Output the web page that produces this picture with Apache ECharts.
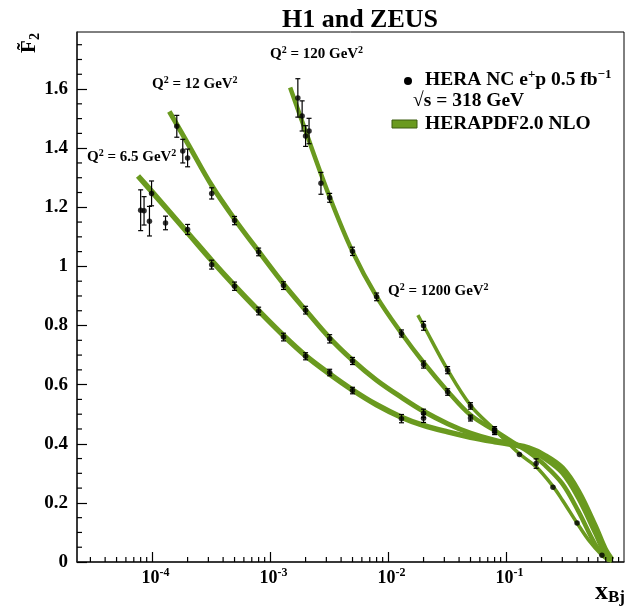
<!DOCTYPE html>
<html>
<head>
<meta charset="utf-8">
<script src="https://cdn.jsdelivr.net/npm/echarts@6/dist/echarts.min.js"></script>
<style>
  html, body { margin: 0; padding: 0; background: #fff; }
  #main { width: 631px; height: 610px; }
</style>
</head>
<body>
<div id="main"></div>
<script>
// HERA NC e+p data points (x, F2 reduced, total error)
const q65X = [8.0e-5, 8.55e-5, 9.5e-5, 9.9e-5, 1.3e-4, 2e-4, 3.2e-4, 5e-4, 8e-4, 1.3e-3, 2e-3, 3.2e-3, 5e-3, 0.013, 0.02];
const q65F2 = [1.190, 1.188, 1.153, 1.247, 1.147, 1.125, 1.006, 0.933, 0.849, 0.761, 0.696, 0.641, 0.580, 0.485, 0.486];
const q65Err = [0.069, 0.048, 0.050, 0.042, 0.023, 0.017, 0.015, 0.014, 0.013, 0.013, 0.012, 0.011, 0.011, 0.014, 0.014];

const q12X = [1.62e-4, 1.82e-4, 2.0e-4, 3.2e-4, 5e-4, 8e-4, 1.3e-3, 2e-3, 3.2e-3, 5e-3, 0.02];
const q12F2 = [1.474, 1.390, 1.367, 1.247, 1.155, 1.049, 0.935, 0.852, 0.755, 0.680, 0.503];
const q12Err = [0.037, 0.040, 0.030, 0.019, 0.014, 0.013, 0.013, 0.013, 0.014, 0.012, 0.014];

const q120X = [1.72e-3, 1.87e-3, 2.0e-3, 2.14e-3, 2.7e-3, 3.2e-3, 5e-3, 8e-3, 0.013, 0.02, 0.032, 0.05, 0.08];
const q120F2 = [1.570, 1.509, 1.441, 1.458, 1.281, 1.232, 1.051, 0.897, 0.773, 0.668, 0.575, 0.487, 0.441];
const q120Err = [0.065, 0.051, 0.035, 0.043, 0.037, 0.015, 0.014, 0.013, 0.012, 0.012, 0.011, 0.010, 0.010];

const q1200X = [0.02, 0.032, 0.05, 0.08, 0.13, 0.18, 0.25, 0.4, 0.65];
const q1200F2 = [0.799, 0.649, 0.528, 0.448, 0.364, 0.333, 0.253, 0.132, 0.023];
const q1200Err = [0.015, 0.012, 0.011, 0.010, 0, 0.016, 0, 0, 0];

// HERAPDF2.0 NLO bands, read along the middle of each band
const pdf65X = [7.6e-5, 1e-4, 2e-4, 3.2e-4, 5e-4, 8e-4, 1.3e-3, 2e-3, 3.2e-3, 5e-3, 8e-3, 0.013, 0.02, 0.032, 0.05, 0.08, 0.115, 0.155, 0.21, 0.3, 0.41, 0.57, 0.69, 0.79];
const pdf65F2 = [1.306, 1.252, 1.114, 1.020, 0.935, 0.850, 0.766, 0.698, 0.636, 0.582, 0.532, 0.490, 0.462, 0.440, 0.422, 0.407, 0.397, 0.386, 0.362, 0.318, 0.240, 0.122, 0.045, 0.008];

const pdf12X = [1.4e-4, 2e-4, 3.2e-4, 5e-4, 8e-4, 1.3e-3, 2e-3, 3.2e-3, 5e-3, 8e-3, 0.013, 0.02, 0.032, 0.05, 0.08, 0.115, 0.155, 0.21, 0.3, 0.41, 0.57, 0.69, 0.79];
const pdf12F2 = [1.524, 1.417, 1.274, 1.160, 1.051, 0.941, 0.852, 0.758, 0.683, 0.615, 0.557, 0.510, 0.468, 0.436, 0.412, 0.398, 0.382, 0.352, 0.302, 0.218, 0.100, 0.030, 0.005];

const pdf120X = [1.48e-3, 2e-3, 3.2e-3, 5e-3, 8e-3, 0.013, 0.02, 0.032, 0.05, 0.08, 0.115, 0.155, 0.21, 0.3, 0.41, 0.57, 0.69, 0.79];
const pdf120F2 = [1.605, 1.458, 1.235, 1.050, 0.898, 0.774, 0.675, 0.578, 0.497, 0.445, 0.405, 0.372, 0.330, 0.265, 0.172, 0.060, 0.018, 0.004];

const pdf1200X = [0.0179, 0.02, 0.032, 0.05, 0.08, 0.13, 0.18, 0.25, 0.3, 0.4, 0.5, 0.65, 0.75];
const pdf1200F2 = [0.835, 0.800, 0.650, 0.530, 0.448, 0.366, 0.322, 0.256, 0.210, 0.132, 0.075, 0.023, 0.004];

// axes
const xMin = 2.31e-5;
const xMajorExp = [-4, -3, -2, -1];
const xMinorMult = [2, 3, 4, 5, 6, 7, 8, 9];
const xMinorDecades = [1e-5, 1e-4, 1e-3, 1e-2, 1e-1];
const yMax = 1.793;
const yMajor = [0, 0.2, 0.4, 0.6, 0.8, 1, 1.2, 1.4, 1.6];
const yMinor = [0.05, 0.1, 0.15, 0.25, 0.3, 0.35, 0.45, 0.5, 0.55, 0.65, 0.7, 0.75,
  0.85, 0.9, 0.95, 1.05, 1.1, 1.15, 1.25, 1.3, 1.35, 1.45, 1.5, 1.55, 1.65, 1.7, 1.75];

const FONT = 'Liberation Serif';
const GREEN = '#6a9a1f';

const lxMin = Math.log10(xMin);
const xMinor = [];
xMinorDecades.forEach(function (d) {
  xMinorMult.forEach(function (m) {
    const v = Math.log10(m * d);
    if (v > lxMin && v < 0) xMinor.push(v);
  });
});

function tok(size, extra) {
  return Object.assign({ fontFamily: FONT, fontWeight: 'bold', fontSize: size, color: '#000', fill: '#000' }, extra || {});
}
function richSet(size) {
  const sup = Math.round(size * 0.65);
  return {
    m: tok(size, { lineHeight: Math.round(size * 1.2) }),
    s: tok(sup, { lineHeight: sup, verticalAlign: 'top' }),
    d: tok(sup, { lineHeight: sup, verticalAlign: 'bottom' })
  };
}

function curve(xs, ys, width) {
  return {
    type: 'line',
    data: xs.map(function (x, i) { return [Math.log10(x), ys[i]]; }),
    smooth: 0.35,
    showSymbol: false,
    lineStyle: { color: GREEN, width: width, cap: 'butt' },
    z: 2
  };
}
function points(xs, ys) {
  return {
    type: 'scatter',
    data: xs.map(function (x, i) { return [Math.log10(x), ys[i]]; }),
    symbol: 'circle',
    symbolSize: 5.5,
    itemStyle: { color: '#000' },
    z: 6
  };
}
function errorBars(xs, ys, es) {
  return {
    type: 'custom',
    data: xs.map(function (x, i) { return [Math.log10(x), ys[i], es[i]]; }),
    encode: { x: 0, y: 1 },
    z: 5,
    renderItem: function (params, api) {
      const x = api.value(0), y = api.value(1), e = api.value(2);
      if (!(e > 0.004)) return { type: 'group', children: [] };
      const hi = api.coord([x, y + e]);
      const lo = api.coord([x, y - e]);
      const w = 2.5;
      const st = { stroke: '#000', lineWidth: 1.2 };
      return {
        type: 'group',
        children: [
          { type: 'line', shape: { x1: hi[0], y1: hi[1], x2: lo[0], y2: lo[1] }, style: st },
          { type: 'line', shape: { x1: hi[0] - w, y1: hi[1], x2: hi[0] + w, y2: hi[1] }, style: st },
          { type: 'line', shape: { x1: lo[0] - w, y1: lo[1], x2: lo[0] + w, y2: lo[1] }, style: st }
        ]
      };
    }
  };
}
// short inward minor ticks on the bottom (dim 'x') or left (dim 'y') axis
function minorTicks(values, dim) {
  return {
    type: 'custom',
    data: values.map(function (v) { return dim === 'x' ? [v, 0] : [lxMin, v]; }),
    encode: { x: 0, y: 1 },
    clip: false,
    silent: true,
    z: 7,
    renderItem: function (params, api) {
      const p = api.coord([api.value(0), api.value(1)]);
      const shape = dim === 'x'
        ? { x1: p[0], y1: p[1], x2: p[0], y2: p[1] - 5 }
        : { x1: p[0], y1: p[1], x2: p[0] + 5, y2: p[1] };
      return { type: 'line', shape: shape, style: { stroke: '#000', lineWidth: 1.2 } };
    }
  };
}

const chart = echarts.init(document.getElementById('main'));

const option = {
  animation: false,
  backgroundColor: '#fff',
  title: {
    text: 'H1 and ZEUS',
    left: 355,
    top: 2,
    textAlign: 'center',
    textStyle: { fontFamily: FONT, fontWeight: 'bold', fontSize: 26, color: '#000' }
  },
  grid: { left: 77, right: 7, top: 32, bottom: 48, show: true, borderColor: '#000', borderWidth: 1, backgroundColor: 'transparent' },
  xAxis: {
    type: 'value', min: lxMin, max: 0,
    axisLine: { onZero: false, lineStyle: { color: '#222', width: 1.5 } },
    axisTick: { inside: true, length: 10, customValues: xMajorExp, lineStyle: { color: '#000', width: 1.2 } },
    axisLabel: {
      customValues: xMajorExp,
      margin: 5,
      padding: [0, 0, 0, 7],
      formatter: function (v) { return '{m|10}{s|' + v + '}'; },
      rich: richSet(18)
    },
    splitLine: { show: false }
  },
  yAxis: {
    type: 'value', min: 0, max: yMax,
    axisLine: { onZero: false, lineStyle: { color: '#222', width: 1.5 } },
    axisTick: { inside: true, length: 10, customValues: yMajor, lineStyle: { color: '#000', width: 1.2 } },
    axisLabel: {
      customValues: yMajor, margin: 9,
      fontFamily: FONT, fontWeight: 'bold', fontSize: 19, color: '#000'
    },
    splitLine: { show: false }
  },
  graphic: [
    // y title: F~_2, rotated
    {
      type: 'text', x: 30, y: 43, rotation: Math.PI / 2,
      style: { text: '{m|F\u0303}{d|2}', rich: richSet(21), align: 'center', verticalAlign: 'middle' }
    },
    // x title
    {
      type: 'text', x: 625, y: 592,
      style: { text: '{m|x}{d|Bj}', rich: { m: tok(26, { lineHeight: 28 }), d: tok(17, { lineHeight: 17, verticalAlign: 'bottom' }) }, align: 'right', verticalAlign: 'middle' }
    },
    // Q2 labels
    { type: 'text', x: 87, y: 157, style: { text: '{m|Q}{s|2}{m| = 6.5 GeV}{s|2}', rich: richSet(15), verticalAlign: 'middle' } },
    { type: 'text', x: 152, y: 84, style: { text: '{m|Q}{s|2}{m| = 12 GeV}{s|2}', rich: richSet(15), verticalAlign: 'middle' } },
    { type: 'text', x: 270, y: 54, style: { text: '{m|Q}{s|2}{m| = 120 GeV}{s|2}', rich: richSet(15), verticalAlign: 'middle' } },
    { type: 'text', x: 388, y: 291, style: { text: '{m|Q}{s|2}{m| = 1200 GeV}{s|2}', rich: richSet(15), verticalAlign: 'middle' } },
    // legend
    { type: 'circle', shape: { cx: 408, cy: 81, r: 4 }, style: { fill: '#000' } },
    { type: 'text', x: 425, y: 80, style: { text: '{m|HERA NC e}{s|+}{m|p 0.5 fb}{s|\u22121}', rich: richSet(19.5), verticalAlign: 'middle' } },
    { type: 'text', x: 413, y: 101, style: { text: '{m|\u221As = 318 GeV}', rich: richSet(19.5), verticalAlign: 'middle' } },
    { type: 'rect', shape: { x: 392, y: 120, width: 25, height: 8 }, style: { fill: GREEN, stroke: '#3d5c10', lineWidth: 1 } },
    { type: 'text', x: 425, y: 124, style: { text: '{m|HERAPDF2.0 NLO}', rich: richSet(19.5), verticalAlign: 'middle' } }
  ],
  series: [
    curve(pdf65X, pdf65F2, 5.5),
    curve(pdf12X, pdf12F2, 5),
    curve(pdf120X, pdf120F2, 4.5),
    curve(pdf1200X, pdf1200F2, 3.5),
    errorBars(q65X, q65F2, q65Err),
    errorBars(q12X, q12F2, q12Err),
    errorBars(q120X, q120F2, q120Err),
    errorBars(q1200X, q1200F2, q1200Err),
    points(q65X, q65F2),
    points(q12X, q12F2),
    points(q120X, q120F2),
    points(q1200X, q1200F2),
    minorTicks(xMinor, 'x'),
    minorTicks(yMinor, 'y')
  ]
};

chart.setOption(option);
</script>
</body>
</html>
